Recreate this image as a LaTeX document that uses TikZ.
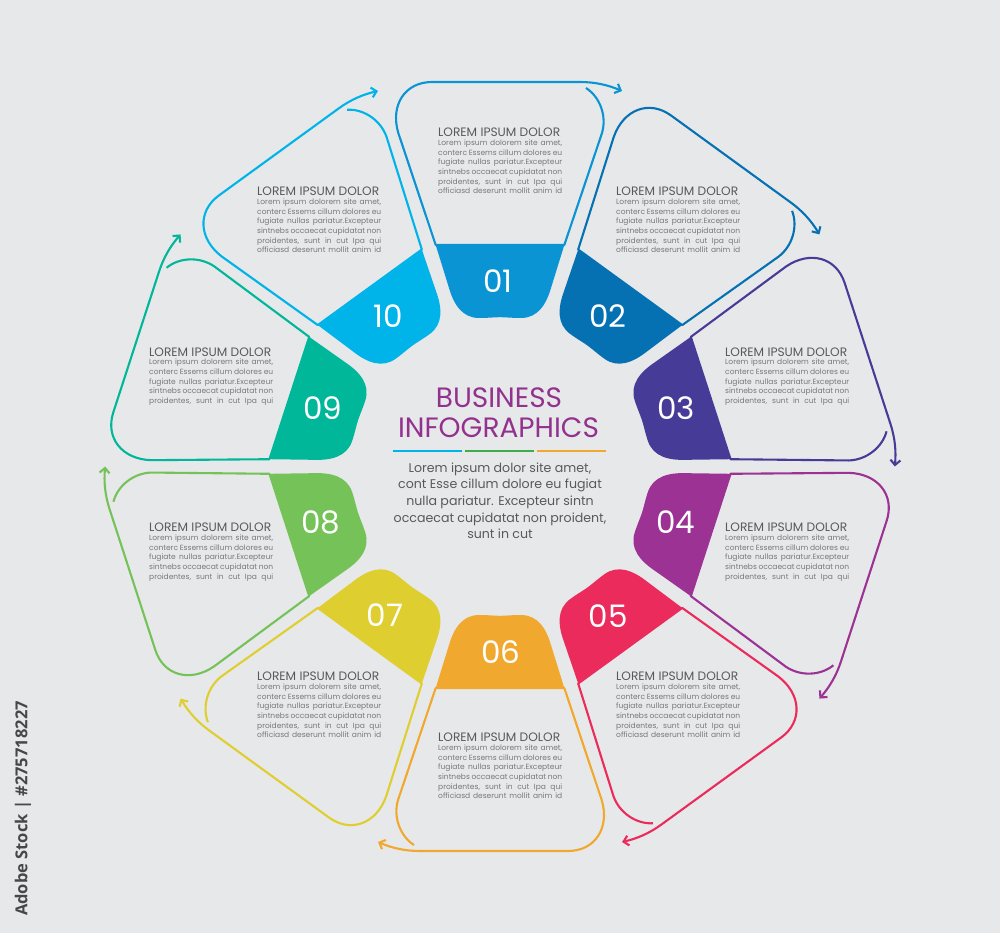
\documentclass[tikz,border=0pt]{standalone}
\usepackage{fontspec}
\usetikzlibrary{arrows.meta}
\setmainfont{Poppins}
\newfontfamily\stockfont{Open Sans}
\definecolor{bgc}{HTML}{E7E8EA}
\definecolor{c0}{HTML}{0A94D4}
\definecolor{c1}{HTML}{0571B3}
\definecolor{c2}{HTML}{463C98}
\definecolor{c3}{HTML}{9B3294}
\definecolor{c4}{HTML}{EA2B5B}
\definecolor{c5}{HTML}{F0A82E}
\definecolor{c6}{HTML}{DFCE30}
\definecolor{c7}{HTML}{75C258}
\definecolor{c8}{HTML}{00B79A}
\definecolor{c9}{HTML}{00B3E8}
\definecolor{barg}{HTML}{3FAE49}
\definecolor{titlec}{HTML}{93328E}
\definecolor{headc}{HTML}{58595B}
\definecolor{bodyc}{HTML}{77787B}
\tikzset{
  numlabel/.style={text=white,font=\fontsize{31}{31}\selectfont,inner sep=0pt},
  headlabel/.style={text=headc,font=\fontsize{12.2}{12.2}\selectfont,inner sep=0pt,anchor=west},
  bodylabel/.style={text=bodyc,font=\fontsize{7.5}{9.65}\selectfont,inner sep=0pt,anchor=north west},
  titlelabel/.style={text=titlec,font=\fontsize{28}{28}\selectfont,inner sep=0pt},
  centerlabel/.style={text=headc,font=\fontsize{12.6}{16.6}\selectfont,inner sep=0pt,align=center,anchor=north},
  outline/.style={line width=2.1pt,line join=round,-{Straight Barb[length=5pt,width=10pt,line width=2.1pt]}},
  bar/.style={line width=2.6pt}
}
\newcommand{\jline}[1]{\makebox[124pt][s]{#1}\\}
\newcommand{\bodyfive}{\parbox[t]{124pt}{\jline{Lorem ipsum dolorem site amet,}\jline{conterc Essems cillum dolores eu}\jline{fugiate nullas pariatur.Excepteur}\jline{sintnebs occaecat cupidatat non}\makebox[124pt][s]{proidentes, sunt in cut Ipa qui}}}
\newcommand{\bodysix}{\parbox[t]{124pt}{\jline{Lorem ipsum dolorem site amet,}\jline{conterc Essems cillum dolores eu}\jline{fugiate nullas pariatur.Excepteur}\jline{sintnebs occaecat cupidatat non}\jline{proidentes, sunt in cut Ipa qui}\makebox[124pt][s]{officiasd deserunt mollit anim id}}}
\begin{document}
\begin{tikzpicture}[x=1pt,y=-1pt]
\useasboundingbox (0,0) rectangle (1000,933);
\fill[bgc] (0,0) rectangle (1000,933);
\foreach \k in {0,...,9}{
  \begin{scope}[rotate around={-36*\k:(500,466.5)}]
    \fill[c\k] (435.7,245) -- (448.7,287) .. controls (453.5,304) and (462,318) .. (479,318)
      .. controls (488,318) and (494,317.2) .. (500,317.2)
      .. controls (506,317.2) and (512,318) .. (521,318)
      .. controls (538,318) and (546.5,304) .. (551.3,287) -- (564.3,245) -- cycle;
    \draw[outline,draw=c\k] (586,88) .. controls (600,97) and (607,116) .. (602,133)
      -- (564.3,245) -- (435.7,245) -- (398.3,133)
      .. controls (390,105) and (405,82) .. (432,82) -- (580,82)
      .. controls (595,82) and (608,85) .. (622,91);
  \end{scope}
}
% numbers
\node[numlabel] (n01) at (498,281) {01};
\node[numlabel] (n02) at (608,316) {02};
\node[numlabel] (n03) at (676,408) {03};
\node[numlabel] (n04) at (676,522) {04};
\node[numlabel] (n05) at (608,616) {05};
\node[numlabel] (n06) at (501,652) {06};
\node[numlabel] (n07) at (385,615) {07};
\node[numlabel] (n08) at (321,522) {08};
\node[numlabel] (n09) at (323,408) {09};
\node[numlabel] (n10) at (388,316) {10};
% text blocks
\node[headlabel] (h01) at (438,132.5) {LOREM IPSUM DOLOR};
\node[bodylabel] (b01) at (438,139.5) {\bodysix};
\node[headlabel] (h02) at (616,191.5) {LOREM IPSUM DOLOR};
\node[bodylabel] (b02) at (616,198.5) {\bodysix};
\node[headlabel] (h03) at (725,352) {LOREM IPSUM DOLOR};
\node[bodylabel] (b03) at (725,359) {\bodyfive};
\node[headlabel] (h04) at (725,527.5) {LOREM IPSUM DOLOR};
\node[bodylabel] (b04) at (725,534.5) {\bodyfive};
\node[headlabel] (h05) at (616,676.5) {LOREM IPSUM DOLOR};
\node[bodylabel] (b05) at (616,683.5) {\bodysix};
\node[headlabel] (h06) at (438,737.5) {LOREM IPSUM DOLOR};
\node[bodylabel] (b06) at (438,744.5) {\bodysix};
\node[headlabel] (h07) at (257,676.5) {LOREM IPSUM DOLOR};
\node[bodylabel] (b07) at (257,683.5) {\bodysix};
\node[headlabel] (h08) at (149,527.5) {LOREM IPSUM DOLOR};
\node[bodylabel] (b08) at (149,534.5) {\bodyfive};
\node[headlabel] (h09) at (149,352) {LOREM IPSUM DOLOR};
\node[bodylabel] (b09) at (149,359) {\bodyfive};
\node[headlabel] (h10) at (257,191.5) {LOREM IPSUM DOLOR};
\node[bodylabel] (b10) at (257,198.5) {\bodysix};
% centre
\node[titlelabel] (t1) at (499,398) {BUSINESS};
\node[titlelabel] (t2) at (498.5,427.5) {INFOGRAPHICS};
\draw[bar,draw=c9] (392.5,451) -- (461.5,451);
\draw[bar,draw=barg] (465,451) -- (534,451);
\draw[bar,draw=c5] (537,451) -- (606,451);
\node[centerlabel] (ct) at (500,462.5) {Lorem ipsum dolor site amet,\\cont Esse cillum dolore eu fugiat\\nulla pariatur. Excepteur sintn\\occaecat cupidatat non proident,\\sunt in cut};
\node[rotate=90,text=black!72,font=\stockfont\bfseries\fontsize{16.5}{16.5}\selectfont,inner sep=0pt] (stock) at (23,808.5) {Adobe Stock | \#275718227};
\end{tikzpicture}
\end{document}
